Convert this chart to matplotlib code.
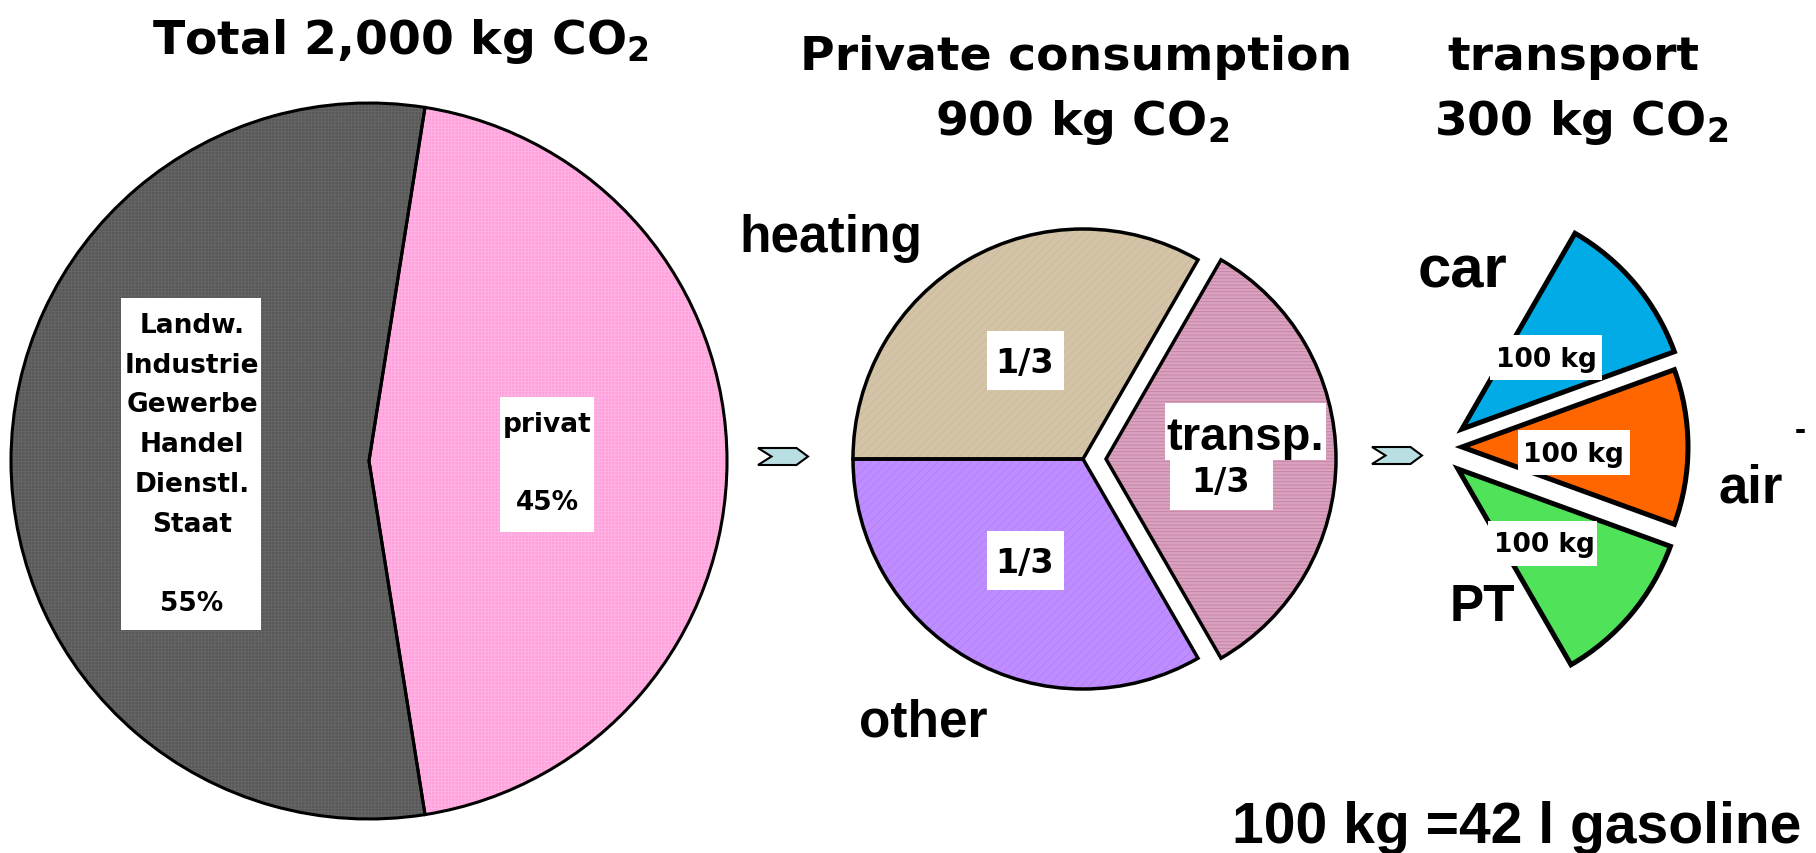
import matplotlib
matplotlib.use("Agg")
import matplotlib.pyplot as plt
from matplotlib.patches import Rectangle, Polygon

W, H = 1816, 854

# ---- data -------------------------------------------------------------
total_kg = 2000
total_labels = ["privat", "Landw.\nIndustrie\nGewerbe\nHandel\nDienstl.\nStaat"]
total_shares = [45, 55]                      # percent
total_colors = ["#FFA1DB", "#585858"]
total_hatch_colors = ["#FFB6E6", "#676767"]

private_kg = 900
private_labels = ["heating", "other", "transp."]
private_shares = [1 / 3, 1 / 3, 1 / 3]
private_share_text = ["1/3", "1/3", "1/3"]
private_colors = ["#D4C4A7", "#BE8DFF", "#D9A2C0"]
private_hatch_colors = ["#CBB99A", "#B57FF6", "#C6809F"]
private_hatches = ["////", "////", "-----"]

transport_kg_total = 300
transport_labels = ["car", "air", "PT"]
transport_kg = [100, 100, 100]
transport_colors = ["#00ABE6", "#FF6600", "#50E35A"]

note = "100 kg =42 l gasoline"

# ---- figure -----------------------------------------------------------
plt.rcParams["hatch.linewidth"] = 0.6
plt.rcParams["mathtext.fontset"] = "dejavusans"
fig = plt.figure(figsize=(W / 100, H / 100), dpi=100)
fig.patch.set_facecolor("white")
ax = fig.add_axes([0, 0, 1, 1])

TITLE = dict(family="DejaVu Sans", weight="bold", color="black")
ARIAL = dict(family="Liberation Sans", weight="bold", color="black")
CO2 = r"CO$_{\mathbf{2}}$"


def py(y):
    """Convert a top-down pixel row to the axes' bottom-up coordinate."""
    return H - y


def text(x, y, s, **kw):
    ax.text(x, py(y), s, zorder=7, **kw)


def box(x0, y0, x1, y1):
    ax.add_patch(Rectangle((x0, py(y1)), x1 - x0, y1 - y0,
                           facecolor="white", edgecolor="none", zorder=6))


def textured_pie(values, colors, hatches, hatch_colors, center, radius,
                 startangle, explode=None, lw=2.2, normalize=True):
    base, _ = ax.pie(values, colors=colors, center=center, radius=radius,
                     startangle=startangle, explode=explode,
                     normalize=normalize, wedgeprops=dict(linewidth=0))
    for w, h, hc in zip(base, hatches, hatch_colors):
        w.set_hatch(h)
        w.set_edgecolor(hc)
        if hasattr(w, "set_hatchcolor"):
            w.set_hatchcolor(hc)
        w.set_linewidth(0)
    ax.pie(values, center=center, radius=radius, startangle=startangle,
           explode=explode, normalize=normalize,
           wedgeprops=dict(fill=False, edgecolor="black", linewidth=lw))


# ---- total pie ----------------------------------------------------------
half = 180 * total_shares[0] / 100
textured_pie(total_shares, total_colors, ["+++++", "+++++"], total_hatch_colors,
             center=(369, py(462)), radius=358, startangle=-half, lw=2.2)

# ---- private consumption pie -------------------------------------------
textured_pie(private_shares, private_colors, private_hatches, private_hatch_colors,
             center=(1083, py(460)), radius=230, startangle=60,
             explode=[0, 0, 23], lw=2.5)

# ---- transport fan (slices of the 900 kg circle) -----------------------
fan_fracs = [v / private_kg for v in transport_kg]
fan_start = 180 * transport_kg_total / private_kg      # half of the transport sector
fan, _ = ax.pie(fan_fracs, colors=transport_colors, normalize=False,
                center=(1462, py(448)), radius=226, startangle=fan_start,
                counterclock=False,
                wedgeprops=dict(edgecolor="black", linewidth=3.6))
fan_offsets = [(0, 18), (0, 0), (-4, -22)]
for w, (dx, dy) in zip(fan, fan_offsets):
    cx, cy = w.center
    w.set_center((cx + dx, cy + dy))

# ---- arrows -------------------------------------------------------------
def chevron(x0, y0, w, h):
    pts = [(x0, y0), (x0 + 0.77 * w, y0), (x0 + w, y0 + h / 2),
           (x0 + 0.77 * w, y0 + h), (x0, y0 + h), (x0 + 0.27 * w, y0 + h / 2)]
    ax.add_patch(Polygon([(x, py(y)) for x, y in pts], closed=True,
                         facecolor="#B9DFE2", edgecolor="black",
                         linewidth=1.5, zorder=5))


chevron(758, 449, 50, 17)
chevron(1372, 448, 50, 17)

# ---- titles -------------------------------------------------------------
text(400, 54, f"Total {total_kg:,} kg " + CO2, ha="center", va="baseline",
     fontsize=34, **TITLE)
text(1076, 70, "Private consumption", ha="center", va="baseline",
     fontsize=34, **TITLE)
text(1082, 135, f"{private_kg} kg " + CO2, ha="center", va="baseline",
     fontsize=34, **TITLE)
text(1573, 70, "transport", ha="center", va="baseline", fontsize=34, **TITLE)
text(1581, 135, f"{transport_kg_total} kg " + CO2, ha="center", va="baseline",
     fontsize=34, **TITLE)

# ---- labels on the total pie ------------------------------------------
box(121, 299, 261, 631)
rest_lines = total_labels[1].split("\n") + ["", f"{total_shares[1]}%"]
for i, line in enumerate(rest_lines):
    text(192, 333 + i * 39.7, line, ha="center", va="baseline",
         fontsize=19, **TITLE)
box(500, 398, 594, 533)
for i, line in enumerate([total_labels[0], "", f"{total_shares[0]}%"]):
    text(547, 432 + i * 39.0, line, ha="center", va="baseline",
         fontsize=19, **TITLE)

# ---- labels on the private consumption pie -----------------------------
box(987, 332, 1064, 391)
text(1025, 373, private_share_text[0], ha="center", va="baseline",
     fontsize=24, **TITLE)
box(987, 532, 1064, 591)
text(1025, 573, private_share_text[1], ha="center", va="baseline",
     fontsize=24, **TITLE)
box(1170, 461, 1273, 511)
text(1221, 492, private_share_text[2], ha="center", va="baseline",
     fontsize=24, **TITLE)
box(1165, 404, 1326, 461)
text(1166, 450, private_labels[2], ha="left", va="baseline", fontsize=34, **ARIAL)
text(739, 252, private_labels[0], ha="left", va="baseline", fontsize=37, **ARIAL)
text(859, 737, private_labels[1], ha="left", va="baseline", fontsize=37, **ARIAL)

# ---- labels on the transport fan --------------------------------------
kg_boxes = [(1490, 336, 1602, 381), (1518, 431, 1630, 476), (1488, 522, 1597, 567)]
kg_text_pos = [(1546, 367), (1573, 462), (1544, 552)]
for (x0, y0, x1, y1), (tx, ty), v in zip(kg_boxes, kg_text_pos, transport_kg):
    box(x0, y0, x1, y1)
    text(tx, ty, f"{v} kg", ha="center", va="baseline", fontsize=19, **TITLE)

text(1418, 287, transport_labels[0], ha="left", va="baseline", fontsize=43, **ARIAL)
text(1719, 503, transport_labels[1], ha="left", va="baseline", fontsize=38, **ARIAL)
text(1450, 621, transport_labels[2], ha="left", va="baseline", fontsize=37, **ARIAL)
text(1800, 440, "-", ha="center", va="baseline", fontsize=24, **ARIAL)

# ---- conversion note ----------------------------------------------------
text(1801, 843, note, ha="right", va="baseline", fontsize=41, **ARIAL)

ax.set_xlim(0, W)
ax.set_ylim(0, H)
ax.set_aspect("auto")
ax.axis("off")

fig.savefig("out.png", dpi=100, facecolor="white")
